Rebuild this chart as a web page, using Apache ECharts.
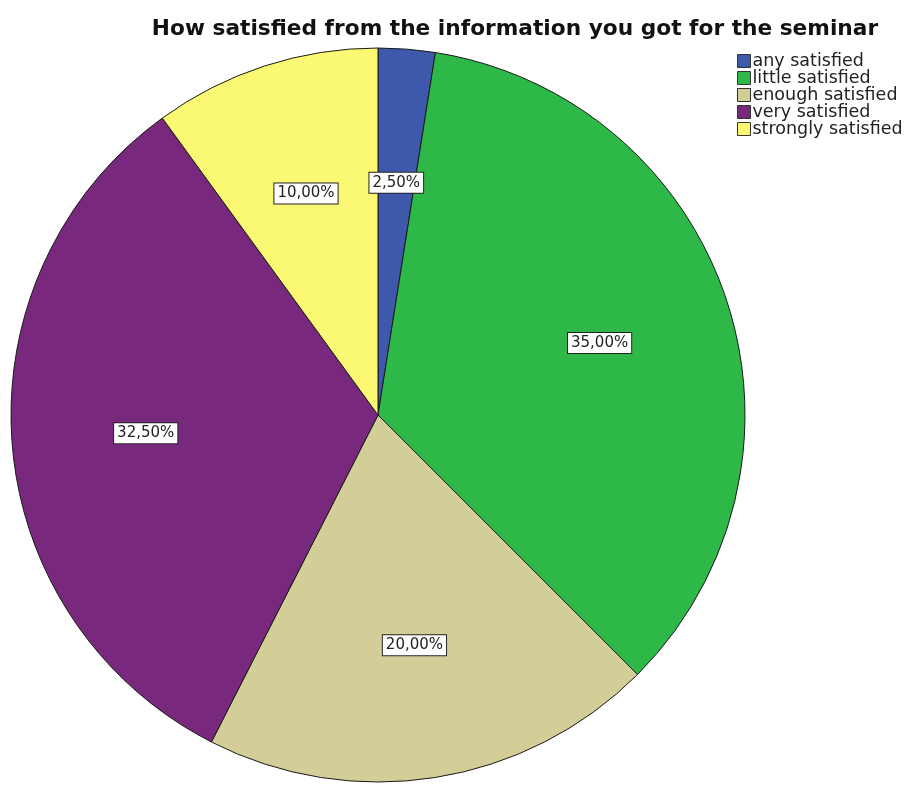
<!DOCTYPE html>
<html>
<head>
<meta charset="utf-8">
<script src="https://cdn.jsdelivr.net/npm/echarts@6/dist/echarts.min.js"></script>
<style>html,body{margin:0;padding:0;background:#fff}#c{width:904px;height:787px}</style>
</head>
<body>
<div id="c"></div>
<script>
var categories = ['any satisfied', 'little satisfied', 'enough satisfied', 'very satisfied', 'strongly satisfied'];
var values = [2.5, 35.0, 20.0, 32.5, 10.0];
var colors = ['#3E58AC', '#2EB848', '#D3CE97', '#78287D', '#FBF873'];
var titleText = 'How satisfied from the information you got for the seminar';

var data = categories.map(function (n, i) {
  return { name: n, value: values[i], itemStyle: { color: colors[i] } };
});
var labelData = categories.map(function (n, i) {
  return { name: n, value: values[i] };
});
function fmt(p) { return p.value.toFixed(2).replace('.', ',') + '%'; }

var chart = echarts.init(document.getElementById('c'));
chart.setOption({
  animation: false,
  backgroundColor: '#fff',
  title: {
    text: titleText, left: 510, textAlign: 'center', top: 13,
    textStyle: { fontFamily: 'DejaVu Sans', fontWeight: 'bold', fontSize: 21.7, color: '#111' }
  },
  legend: {
    orient: 'vertical', left: 732, top: 47,
    itemWidth: 13, itemHeight: 13, itemGap: -1, icon: 'rect',
    itemStyle: { borderColor: '#333', borderWidth: 1 },
    textStyle: { fontFamily: 'DejaVu Sans', fontSize: 17.5, color: '#222', padding: [0, 0, 0, -3] },
    data: categories
  },
  series: [{
    type: 'pie', center: [378, 415], radius: [0, 367],
    startAngle: 90, clockwise: true, silent: true,
    label: { show: false }, labelLine: { show: false },
    itemStyle: { borderColor: '#1a1a1a', borderWidth: 1 },
    data: data
  }, {
    type: 'pie', center: [378, 415], radius: [0, 460],
    startAngle: 90, clockwise: true, silent: true, legendHoverLink: false,
    itemStyle: { color: 'rgba(0,0,0,0)', borderWidth: 0 },
    label: {
      show: true, position: 'inside', formatter: fmt,
      fontFamily: 'DejaVu Sans', fontSize: 15, color: '#222',
      backgroundColor: '#fff', borderColor: '#222', borderWidth: 1, padding: [3, 3, 2, 3]
    },
    labelLine: { show: false },
    data: labelData
  }]
});
</script>
</body>
</html>
